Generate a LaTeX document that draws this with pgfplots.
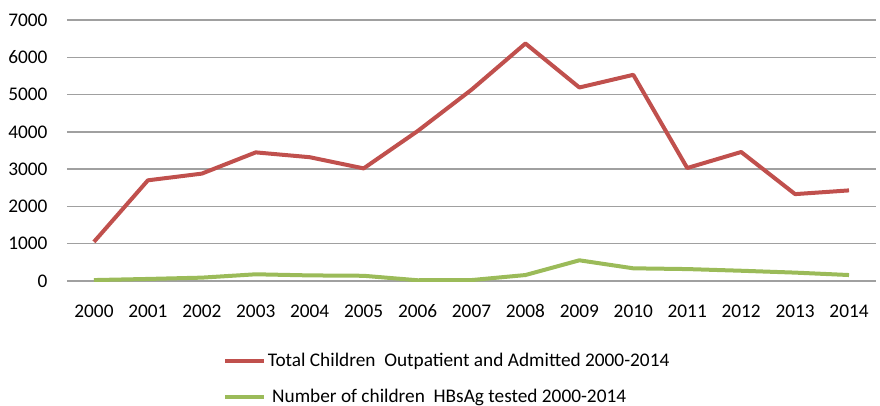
\documentclass[border=0pt]{standalone}
\usepackage{fontspec}
\setmainfont{Carlito}
\usepackage{pgfplots}
\pgfplotsset{compat=1.18}
\definecolor{redline}{HTML}{C0504D}
\definecolor{greenline}{HTML}{9BBB59}
\definecolor{gridgray}{HTML}{A0A0A0}
\newcommand{\chartfont}{\fontsize{19.3bp}{23bp}\selectfont}
\begin{document}
\begin{tikzpicture}
\useasboundingbox (-67bp,-125bp) rectangle (813bp,281bp);
\begin{axis}[
  at={(0,0)}, anchor=south west,
  scale only axis,
  width=809bp, height=261bp,
  xmin=-0.5, xmax=14.5,
  ymin=0, ymax=7000,
  xtick={0,...,14},
  xticklabels={2000,2001,2002,2003,2004,2005,2006,2007,2008,2009,2010,2011,2012,2013,2014},
  ytick={0,1000,...,7000},
  /pgf/number format/assume math mode=true,
  yticklabel style={/pgf/number format/1000 sep={}},
  scaled y ticks=false,
  major tick length=0pt,
  axis line style={draw=none},
  ymajorgrids,
  grid style={gridgray, line width=1.4bp},
  ticklabel style={font=\chartfont},
  yticklabel style={anchor=east, xshift=-16bp},
  xticklabel style={anchor=center, yshift=-30bp},
  legend style={
    at={(0.193,-0.27)}, anchor=north west,
    draw=none, fill=none, inner sep=0pt,
    font=\chartfont,
    row sep=18bp,
    nodes={inner sep=1.5bp},
  },
  legend cell align=left,
  legend image code/.code={\draw[#1] (0bp,0bp) -- (39bp,0bp);},
]
\addplot[redline, line width=4bp, line join=round] coordinates {
  (0,1050) (1,2700) (2,2880) (3,3450) (4,3320) (5,3020) (6,4020) (7,5130)
  (8,6370) (9,5190) (10,5530) (11,3030) (12,3460) (13,2330) (14,2430)
};
\addlegendentry{Total Children\ \ Outpatient and Admitted 2000-2014}
\addplot[greenline, line width=4bp, line join=round] coordinates {
  (0,25) (1,55) (2,90) (3,180) (4,150) (5,140) (6,20) (7,25)
  (8,160) (9,555) (10,340) (11,320) (12,275) (13,225) (14,160)
};
\addlegendentry{\ Number of children\ \ HBsAg tested 2000-2014}
\end{axis}
\end{tikzpicture}
\end{document}
